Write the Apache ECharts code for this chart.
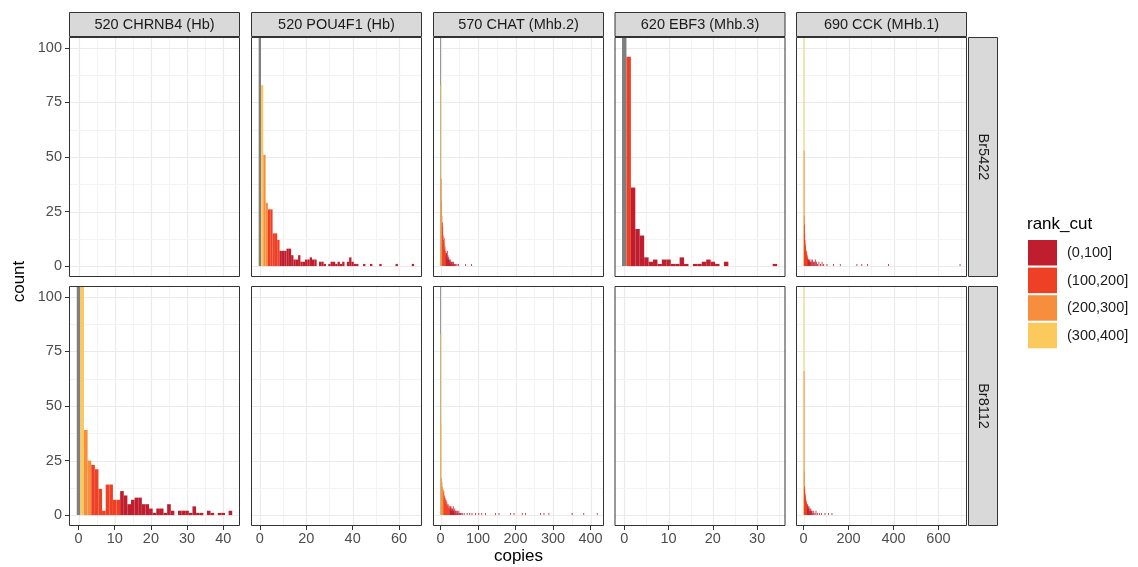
<!DOCTYPE html>
<html>
<head>
<meta charset="utf-8">
<script src="https://cdn.jsdelivr.net/npm/echarts@6/dist/echarts.min.js"></script>
<style>
html, body { margin: 0; padding: 0; background: #fff; }
#main { width: 1138px; height: 567px; }
</style>
</head>
<body>
<div id="main"></div>
<script>
// facets
var genes = ['520 CHRNB4 (Hb)', '520 POU4F1 (Hb)', '570 CHAT (Mhb.2)', '620 EBF3 (Mhb.3)', '690 CCK (MHb.1)'];
var donors = ['Br5422', 'Br8112'];
var rankCuts = ['(0,100]', '(100,200]', '(200,300]', '(300,400]'];
var rankColors = ['#BE1E2D', '#EE4024', '#F68E3E', '#FCC95C'];
var naColor = '#7F7F7F';

// free x scale per gene column
var xMin = [-2.65, -3.8, -20, -2.2, -34];
var xMax = [44.65, 69.9, 436, 36.4, 727];
var xBreaks = [[0, 10, 20, 30, 40], [0, 20, 40, 60], [0, 100, 200, 300, 400], [0, 10, 20, 30], [0, 200, 400, 600]];
var yBreaks = [0, 25, 50, 75, 100];
var yMin = -5, yMax = 105;

// histogram bins: [copies, count, rank_cut index] (-1 = NA)
var chrnb4_br5422 = [];
var chrnb4_br8112 = [
    [0, 180, -1], [1, 180, 3], [2, 39, 2], [3, 25, 2], [4, 23, 1], [5, 21, 1], [6, 12, 1],
    [7, 2, 1], [8, 14, 1], [9, 14, 1], [10, 7, 1], [11, 7, 1], [12, 11, 0], [13, 9, 0],
    [14, 5, 0], [15, 7, 0], [16, 8, 0], [17, 8, 0], [18, 5, 0], [19, 5, 0], [20, 3, 0],
    [21, 1, 0], [22, 3, 0], [23, 3, 0], [24, 1, 0], [25, 5, 0], [26, 2, 0], [28, 2, 0],
    [29, 2, 0], [30, 2, 0], [31, 1, 0], [32, 4, 0], [33, 1, 0], [34, 1, 0], [36, 2, 0],
    [37, 1, 0], [39, 1, 0], [40, 1, 0], [42, 2, 0]
];
var pou4f1_br5422 = [
    [0, 180, -1], [1, 83, 3], [2, 51, 2], [3, 29, 2], [4, 26, 1], [5, 26, 1], [6, 15, 1],
    [7, 15, 1], [8, 12, 1], [9, 7, 0], [10, 7, 0], [11, 7, 0], [12, 8, 0], [13, 8, 0],
    [14, 5, 0], [15, 3, 0], [16, 3, 0], [17, 5, 0], [18, 2, 0], [19, 2, 0], [20, 3, 0],
    [21, 3, 0], [22, 4, 0], [23, 3, 0], [24, 3, 0], [26, 2, 0], [27, 2, 0], [28, 1, 0],
    [30, 1, 0], [31, 2, 0], [32, 2, 0], [33, 1, 0], [34, 2, 0], [35, 1, 0], [36, 2, 0],
    [38, 2, 0], [39, 4, 0], [40, 2, 0], [41, 1, 0], [42, 1, 0], [45, 1, 0], [48, 1, 0],
    [52, 1, 0], [59, 1, 0], [66, 1, 0]
];
var pou4f1_br8112 = [];
var chat_br5422 = [
    [0, 180, -1], [1, 83, 3], [2, 40, 2], [3, 30, 2], [4, 23, 2], [5, 20, 1], [6, 18, 1],
    [7, 14, 1], [8, 12, 1], [9, 10, 1], [10, 13, 1], [11, 8, 1], [12, 9, 1], [13, 6, 1],
    [14, 7, 1], [15, 5, 0], [16, 6, 0], [17, 4, 0], [18, 7, 0], [19, 3, 0], [20, 5, 0],
    [21, 3, 0], [22, 4, 0], [23, 2, 0], [24, 3, 0], [25, 2, 0], [26, 3, 0], [27, 1, 0],
    [28, 2, 0], [29, 2, 0], [30, 1, 0], [32, 2, 0], [34, 1, 0], [35, 2, 0], [37, 1, 0],
    [39, 1, 0], [41, 1, 0], [44, 1, 0], [48, 1, 0], [67, 1, 0], [83, 1, 0]
];
var chat_br8112 = [
    [0, 180, -1], [1, 83, 3], [2, 42, 3], [3, 17, 2], [4, 15, 2], [5, 13, 2], [6, 12, 2],
    [7, 12, 2], [8, 10, 2], [9, 11, 1], [10, 9, 1], [11, 8, 1], [12, 8, 1], [13, 7, 1],
    [14, 6, 1], [15, 7, 1], [16, 5, 1], [17, 6, 1], [18, 4, 1], [19, 5, 1], [20, 4, 1],
    [21, 3, 1], [22, 5, 1], [23, 3, 1], [24, 4, 1], [25, 2, 1], [26, 4, 0], [27, 3, 0],
    [28, 4, 0], [29, 2, 0], [30, 3, 0], [31, 2, 0], [32, 3, 0], [33, 2, 0], [34, 4, 0],
    [35, 2, 0], [36, 2, 0], [37, 1, 0], [38, 3, 0], [40, 2, 0], [42, 2, 0], [44, 1, 0],
    [45, 2, 0], [47, 1, 0], [49, 2, 0], [51, 1, 0], [53, 1, 0], [55, 1, 0], [58, 1, 0],
    [63, 1, 0], [71, 1, 0], [78, 1, 0], [84, 1, 0], [93, 1, 0], [102, 1, 0], [110, 1, 0],
    [120, 1, 0], [147, 1, 0], [156, 1, 0], [187, 1, 0], [196, 1, 0], [218, 1, 0],
    [227, 1, 0], [267, 1, 0], [276, 1, 0], [289, 1, 0], [351, 1, 0], [382, 1, 0], [418, 1, 0]
];
var ebf3_br5422 = [
    [0, 180, -1], [1, 96, 1], [2, 36, 0], [3, 17, 0], [4, 14, 0], [5, 4, 0], [6, 2, 0],
    [7, 3, 0], [8, 1, 0], [9, 3, 0], [10, 3, 0], [11, 1, 0], [12, 1, 0], [13, 4, 0],
    [14, 1, 0], [16, 1, 0], [17, 1, 0], [18, 2, 0], [19, 3, 0], [20, 2, 0], [21, 1, 0],
    [23, 2, 0], [34, 1, 0]
];
var ebf3_br8112 = [];
var cck_br5422 = [
    [1, 180, 3], [2, 53, 2], [3, 23, 2], [4, 19, 1], [5, 15, 1], [6, 12, 1], [7, 10, 1],
    [8, 9, 1], [9, 8, 1], [10, 7, 1], [11, 6, 1], [12, 7, 1], [13, 5, 1], [14, 6, 1],
    [15, 4, 1], [16, 5, 1], [17, 3, 1], [18, 4, 1], [19, 3, 1], [20, 3, 0], [22, 3, 0],
    [24, 2, 0], [26, 3, 0], [28, 2, 0], [30, 2, 0], [33, 3, 0], [36, 2, 0], [40, 3, 0],
    [44, 2, 0], [48, 2, 0], [52, 3, 0], [57, 2, 0], [62, 1, 0], [68, 2, 0], [75, 1, 0],
    [82, 2, 0], [89, 1, 0], [104, 1, 0], [133, 1, 0], [163, 1, 0], [237, 1, 0],
    [259, 1, 0], [284, 1, 0], [378, 1, 0], [696, 1, 0]
];
var cck_br8112 = [
    [1, 180, 3], [2, 66, 2], [3, 20, 2], [4, 13, 1], [5, 12, 1], [6, 10, 1], [7, 8, 1],
    [8, 9, 1], [9, 7, 1], [10, 6, 1], [11, 7, 1], [12, 5, 1], [13, 6, 1], [14, 4, 1],
    [15, 5, 1], [16, 4, 1], [17, 3, 1], [18, 5, 0], [19, 3, 0], [20, 4, 0], [22, 3, 0],
    [24, 4, 0], [26, 2, 0], [28, 3, 0], [30, 2, 0], [32, 3, 0], [35, 2, 0], [38, 2, 0],
    [41, 1, 0], [45, 2, 0], [50, 1, 0], [55, 2, 0], [62, 1, 0], [70, 1, 0], [80, 1, 0],
    [95, 1, 0], [110, 1, 0], [126, 1, 0]
];

var panels = [
    [chrnb4_br5422, pou4f1_br5422, chat_br5422, ebf3_br5422, cck_br5422],
    [chrnb4_br8112, pou4f1_br8112, chat_br8112, ebf3_br8112, cck_br8112]
];

// layout
var panelLeft = [69, 251, 433, 614.5, 796];
var panelWidth = 171;
var panelTop = [37, 286];
var panelHeight = 240;
var stripTop = 12;
var stripRightX = 968;
var fontFamily = '"Liberation Sans", Arial, sans-serif';
var textSize = 14.5;
var titleSize = 17;

function clipToPanel(rect, cs) {
    return echarts.graphic.clipRectByRect(rect, {
        x: cs.x, y: cs.y, width: cs.width, height: cs.height
    });
}

function renderBar(params, api) {
    var x = api.value(0);
    var p0 = api.coord([x - 0.5, api.value(1)]);
    var p1 = api.coord([x + 0.5, 0]);
    var w = p1[0] - p0[0];
    var cx = (p0[0] + p1[0]) / 2;
    // very narrow bins still need to show up as a hairline
    if (w < 0.8) w = 0.8;
    var shape = clipToPanel({
        x: cx - w / 2, y: p0[1], width: w, height: p1[1] - p0[1]
    }, params.coordSys);
    if (!shape) return;
    var g = api.value(2);
    return {
        type: 'rect',
        shape: shape,
        style: { fill: g < 0 ? naColor : rankColors[g] }
    };
}

function renderGridLine(params, api) {
    var cs = params.coordSys;
    var v = api.value(0);
    var vertical = api.value(1) === 1;
    var major = api.value(2) === 1;
    var shape;
    if (vertical) {
        var px = Math.round(api.coord([v, 0])[0]) + 0.5;
        shape = { x1: px, y1: cs.y, x2: px, y2: cs.y + cs.height };
    } else {
        var py = Math.round(api.coord([0, v])[1]) + 0.5;
        shape = { x1: cs.x, y1: py, x2: cs.x + cs.width, y2: py };
    }
    return {
        type: 'line',
        shape: shape,
        silent: true,
        style: { stroke: major ? '#EBEBEB' : '#F3F3F3', lineWidth: major ? 1.2 : 1 }
    };
}

function gridLines(c) {
    var out = [];
    var xb = xBreaks[c];
    var step = xb[1] - xb[0];
    xb.forEach(function (v) { out.push([v, 1, 1]); });
    var m = xb[0] - step / 2;
    while (m <= xMax[c]) {
        if (m >= xMin[c]) out.push([m, 1, 0]);
        m += step;
    }
    yBreaks.forEach(function (v) { out.push([v, 0, 1]); });
    for (var i = 0; i < yBreaks.length - 1; i++) {
        out.push([(yBreaks[i] + yBreaks[i + 1]) / 2, 0, 0]);
    }
    return out;
}

var grids = [], xAxes = [], yAxes = [], series = [], graphics = [];

for (var r = 0; r < 2; r++) {
    for (var c = 0; c < 5; c++) {
        var idx = r * 5 + c;
        grids.push({
            left: panelLeft[c], top: panelTop[r], width: panelWidth, height: panelHeight,
            show: true, backgroundColor: '#fff', borderWidth: 0
        });
        xAxes.push({
            type: 'value', gridIndex: idx, min: xMin[c], max: xMax[c], position: 'bottom',
            axisLine: { show: false, onZero: false },
            splitLine: { show: false },
            axisTick: { show: r === 1, customValues: xBreaks[c], length: 4, lineStyle: { color: '#333' } },
            axisLabel: {
                show: r === 1, customValues: xBreaks[c], margin: 5,
                color: '#4D4D4D', fontSize: textSize, fontFamily: fontFamily
            }
        });
        yAxes.push({
            type: 'value', gridIndex: idx, min: yMin, max: yMax, position: 'left',
            axisLine: { show: false, onZero: false },
            splitLine: { show: false },
            axisTick: { show: c === 0, customValues: yBreaks, length: 4, lineStyle: { color: '#333' } },
            axisLabel: {
                show: c === 0, customValues: yBreaks, margin: 7,
                color: '#4D4D4D', fontSize: textSize, fontFamily: fontFamily
            }
        });
        series.push({
            type: 'custom', xAxisIndex: idx, yAxisIndex: idx, z: 1, silent: true,
            renderItem: renderGridLine, data: gridLines(c)
        });
        if (panels[r][c].length) {
            series.push({
                type: 'custom', xAxisIndex: idx, yAxisIndex: idx, z: 2,
                renderItem: renderBar, data: panels[r][c]
            });
        }
        // panel border
        graphics.push({
            type: 'rect', z: 100, silent: true,
            shape: { x: panelLeft[c] + 0.5, y: panelTop[r] + 0.5, width: panelWidth - 1, height: panelHeight - 1 },
            style: { fill: 'none', stroke: '#333', lineWidth: 1 }
        });
    }
}

// top strips
genes.forEach(function (name, c) {
    graphics.push({
        type: 'rect', z: 100, silent: true,
        shape: { x: panelLeft[c] + 0.5, y: stripTop + 0.5, width: panelWidth - 1, height: panelTop[0] - stripTop - 1 },
        style: { fill: '#D9D9D9', stroke: '#333', lineWidth: 1 }
    });
    graphics.push({
        type: 'text', z: 101, silent: true,
        x: panelLeft[c] + panelWidth / 2, y: (stripTop + panelTop[0]) / 2,
        style: {
            text: name, fill: '#1A1A1A', fontSize: textSize, fontFamily: fontFamily,
            align: 'center', verticalAlign: 'middle'
        }
    });
});

// right strips
donors.forEach(function (name, r) {
    graphics.push({
        type: 'rect', z: 100, silent: true,
        shape: { x: stripRightX + 0.5, y: panelTop[r] + 0.5, width: 29, height: panelHeight - 1 },
        style: { fill: '#D9D9D9', stroke: '#333', lineWidth: 1 }
    });
    graphics.push({
        type: 'text', z: 101, silent: true,
        x: stripRightX + 15, y: panelTop[r] + panelHeight / 2, rotation: -Math.PI / 2,
        style: {
            text: name, fill: '#1A1A1A', fontSize: textSize, fontFamily: fontFamily,
            align: 'center', verticalAlign: 'middle'
        }
    });
});

// axis titles
graphics.push({
    type: 'text', silent: true,
    x: (panelLeft[0] + stripRightX) / 2, y: 556,
    style: { text: 'copies', fill: '#000', fontSize: titleSize, fontFamily: fontFamily, align: 'center', verticalAlign: 'middle' }
});
graphics.push({
    type: 'text', silent: true,
    x: 19, y: (panelTop[0] + panelTop[1] + panelHeight) / 2, rotation: Math.PI / 2,
    style: { text: 'count', fill: '#000', fontSize: titleSize, fontFamily: fontFamily, align: 'center', verticalAlign: 'middle' }
});

// legend
graphics.push({
    type: 'text', silent: true, x: 1027, y: 224,
    style: { text: 'rank_cut', fill: '#000', fontSize: titleSize, fontFamily: fontFamily, align: 'left', verticalAlign: 'middle' }
});
rankCuts.forEach(function (name, i) {
    var ky = 240 + i * 27.6;
    graphics.push({
        type: 'rect', silent: true,
        shape: { x: 1028, y: ky, width: 29, height: 25.5 },
        style: { fill: rankColors[i] }
    });
    graphics.push({
        type: 'text', silent: true, x: 1067, y: ky + 13,
        style: { text: name, fill: '#1A1A1A', fontSize: textSize, fontFamily: fontFamily, align: 'left', verticalAlign: 'middle' }
    });
});

var chart = echarts.init(document.getElementById('main'));
chart.setOption({
    animation: false,
    backgroundColor: '#fff',
    grid: grids,
    xAxis: xAxes,
    yAxis: yAxes,
    series: series,
    graphic: graphics
});
</script>
</body>
</html>
